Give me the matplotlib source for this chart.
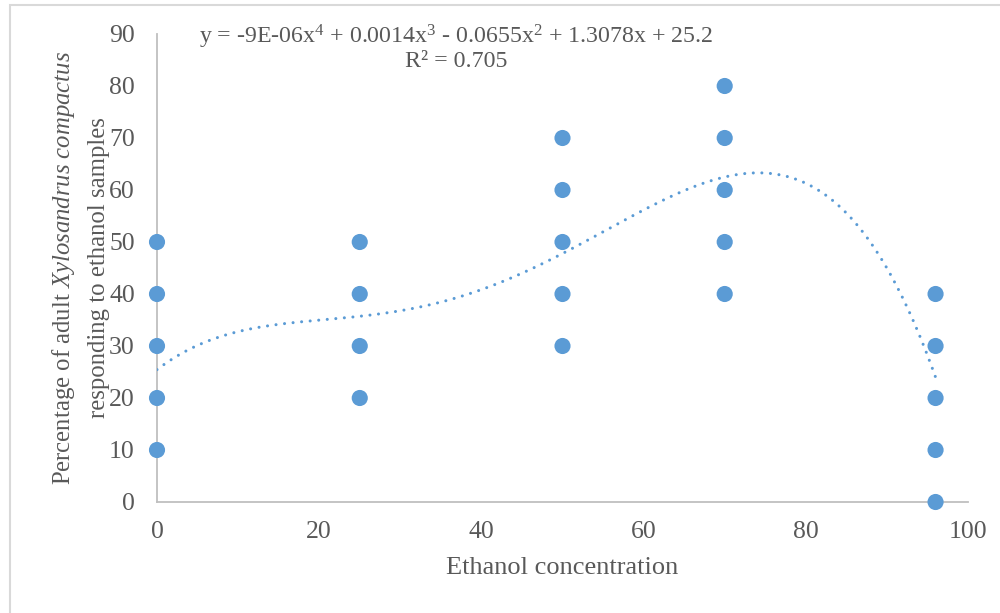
import numpy as np
import matplotlib
matplotlib.use("Agg")
import matplotlib.pyplot as plt
from matplotlib.patches import Rectangle

plt.rcParams["font.family"] = ["Liberation Serif", "DejaVu Serif"]
plt.rcParams["mathtext.fontset"] = "custom"
plt.rcParams["mathtext.rm"] = "Liberation Serif"
plt.rcParams["mathtext.it"] = "Liberation Serif:italic"

# ethanol concentration, response percentage, number of replicates at that point
conc = [0, 0, 0, 0, 0,
        25, 25, 25, 25,
        50, 50, 50, 50, 50,
        70, 70, 70, 70, 70,
        96, 96, 96, 96, 96]
pct = [10, 20, 30, 40, 50,
       20, 30, 40, 50,
       30, 40, 50, 60, 70,
       40, 50, 60, 70, 80,
       0, 10, 20, 30, 40]
reps = [2, 4, 3, 1, 1,
        1, 2, 3, 1,
        1, 3, 3, 1, 1,
        1, 1, 2, 3, 1,
        1, 1, 3, 3, 2]

eq_text = ("y = -9E-06x$^4$ + 0.0014x$^3$ - 0.0655x$^2$ + 1.3078x + 25.2\n"
           "R² = 0.705")

blue = "#5b9bd5"
grey_txt = "#595959"
axis_col = "#bfbfbf"

fig = plt.figure(figsize=(10, 6.13), dpi=100)
ax = fig.add_axes([0.157, 1 - 502 / 613, 0.811, (502 - 34) / 613])

# polynomial trendline (order 4) fitted on all observations
xs = np.repeat(conc, reps)
ys = np.repeat(pct, reps)
coef = np.polyfit(xs, ys, 4)
xx = np.linspace(min(conc), max(conc), 400)
ax.plot(xx, np.polyval(coef, xx), color=blue, lw=2.2,
        dashes=(0.01, 2.8), dash_capstyle="round", zorder=3)

ax.scatter(conc, pct, s=135, color=blue, edgecolors="none", zorder=4,
           clip_on=False)

ax.set_xlim(0, 100)
ax.set_ylim(0, 90)
ax.set_xticks(range(0, 101, 20))
ax.set_yticks(range(0, 91, 10))
ax.tick_params(length=0, labelsize=18.5, labelcolor=grey_txt)
ax.tick_params(axis="x", pad=14)
ax.tick_params(axis="y", pad=16)

for s in ["top", "right"]:
    ax.spines[s].set_visible(False)
for s in ["left", "bottom"]:
    ax.spines[s].set_color(axis_col)
    ax.spines[s].set_linewidth(1.3)

ax.set_xlabel("Ethanol concentration", fontsize=19, color=grey_txt, labelpad=10)
ax.set_ylabel("Percentage of adult $\\it{Xylosandrus\\ compactus}$\n"
              "responding to ethanol samples",
              fontsize=17.8, color=grey_txt, labelpad=-1, linespacing=1.7)

fig.text(0.456, 0.963, eq_text, ha="center", va="top", fontsize=17.2,
         color=grey_txt, linespacing=1.0)

fig.patches.append(Rectangle((0.010, -0.02), 1.0, 1.02 - 5 / 613,
                             transform=fig.transFigure, fill=False,
                             edgecolor="#d9d9d9", lw=1.5))

fig.savefig("out.png", dpi=100)
